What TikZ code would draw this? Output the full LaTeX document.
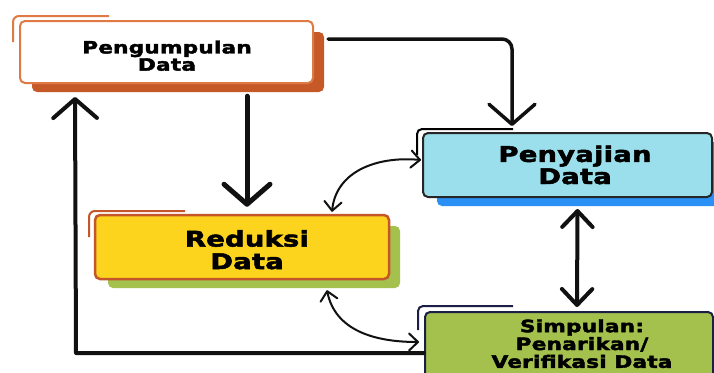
\documentclass[tikz,border=0pt]{standalone}
\usepackage{fontspec}
\usepackage{graphicx}
\newfontfamily\boxfont{DejaVu Sans}[LetterSpace=1, BoldFeatures={FakeBold=2.2}]
\usetikzlibrary{arrows.meta,calc}
\definecolor{orA}{HTML}{E07A45}
\definecolor{orB}{HTML}{C55A28}
\definecolor{orC}{HTML}{C4562A}
\definecolor{yel}{HTML}{FDD41D}
\definecolor{grn}{HTML}{A3C14C}
\definecolor{cya}{HTML}{9ADFEB}
\definecolor{blu}{HTML}{2B90F5}
\definecolor{nav}{HTML}{1B1E45}
\definecolor{lin}{HTML}{111111}
\newcommand{\widetext}[1]{\scalebox{1.27}[1]{\begin{tabular}{@{}c@{}}#1\end{tabular}}}
\tikzset{
  card/.style={rounded corners=5pt, inner sep=0pt},
  txt/.style={align=center, inner sep=0pt, text=black},
  bigtip/.style={-{Straight Barb[length=#1, width=2.3*#1, line cap=round, line join=round]}},
  conn/.style={draw=lin, line cap=round, line join=round},
  dbl/.style={{Straight Barb[length=#1, width=1.9*#1, line cap=round, line join=round]}-{Straight Barb[length=#1, width=1.9*#1, line cap=round, line join=round]}},
}
\begin{document}
\begin{tikzpicture}[x=1pt,y=-1pt]
\useasboundingbox (0,0) rectangle (714,372);
\fill[white] (0,0) rectangle (714,372);

% ---------- Pengumpulan Data ----------
\draw[orA, line width=2pt, rounded corners=6pt] (13,42) -- (13,16) -- (109,16);
\node[card, fill=orB, minimum width=292pt, minimum height=60pt] (pdS) at (178,62) {};
\node[card, fill=white, draw=orA, line width=2pt, minimum width=293pt, minimum height=62pt] (pd) at (166.5,52) {};
\node[txt, font=\boxfont\bfseries\fontsize{17}{16}\selectfont] (pdT) at (167,58) {\widetext{Pengumpulan\\Data}};

% ---------- Penyajian Data ----------
\draw[black, line width=2pt, rounded corners=5pt] (417,155) -- (417,129) -- (513,129);
\node[card, fill=blu, minimum width=290pt, minimum height=64pt] (pyS) at (582,174) {};
\node[card, fill=cya, draw=black!85, line width=2pt, minimum width=289pt, minimum height=64pt] (py) at (567.5,165) {};
\node[txt, font=\boxfont\bfseries\fontsize{21.5}{21.5}\selectfont] (pyT) at (575,168) {\widetext{Penyajian\\Data}};

% ---------- Reduksi Data ----------
\draw[orC, line width=2pt, rounded corners=6pt] (89,237) -- (89,211) -- (185,211);
\node[card, fill=grn, minimum width=292pt, minimum height=62pt] (rdS) at (254,257) {};
\node[card, fill=yel, draw=orC, line width=2.5pt, minimum width=294pt, minimum height=64pt] (rd) at (242,247) {};
\node[txt, font=\boxfont\bfseries\fontsize{21.5}{22.5}\selectfont] (rdT) at (247,253) {\widetext{Reduksi\\Data}};

% ---------- Simpulan ----------
\draw[nav, line width=2pt, rounded corners=5pt] (418,330) -- (418,306) -- (513,306);
\node[card, fill=grn, draw=nav, line width=2pt, minimum width=288pt, minimum height=74pt] (sp) at (569,349) {};
\node[txt, font=\boxfont\bfseries\fontsize{17}{16.3}\selectfont] (spT) at (582,346) {\widetext{Simpulan:\\Penarikan/\\Verifikasi Data}};

% ---------- connectors ----------
\coordinate (a1s) at ($(pd.east)+(14,-13)$);
\coordinate (a1e) at ($(py.north west)+(90,-6)$);
\draw[conn, line width=3.5pt, rounded corners=10pt, bigtip=20pt] (a1s) -| (a1e);

\coordinate (a2s) at ($(pdS.south)+(69,4)$);
\coordinate (a2e) at ($(rd.north)+(5,-7)$);
\draw[conn, line width=5pt, bigtip=20pt] (a2s) -- (a2e);

\coordinate (a3s) at ($(sp.west)+(0,4)$);
\coordinate (a3c) at (76,353);
\coordinate (a3e) at ($(pd.south west)+(56,13)$);
\draw[conn, line width=4pt, bigtip=19pt] (a3s) -- (a3c) -- (a3e);

\coordinate (a4s) at ($(py.south)+(10,11)$);
\coordinate (a4e) at ($(sp.north)+(8,-4)$);
\draw[conn, line width=4pt, dbl=16pt] (a4s) -- (a4e);

\coordinate (a5s) at ($(rd.north)+(90,-2)$);
\coordinate (a5e) at ($(py.west)+(-1,-5)$);
\draw[conn, line width=2pt, dbl=9pt] (a5s) .. controls ($(a5s)+(4,-40)$) and ($(a5e)+(-45,-4)$) .. (a5e);

\coordinate (a6s) at ($(rdS.south)+(73,2)$);
\coordinate (a6e) at ($(sp.west)+(-5,-7)$);
\draw[conn, line width=2pt, dbl=9pt] (a6s) .. controls ($(a6s)+(8,40)$) and ($(a6e)+(-45,0)$) .. (a6e);
\end{tikzpicture}
\end{document}
